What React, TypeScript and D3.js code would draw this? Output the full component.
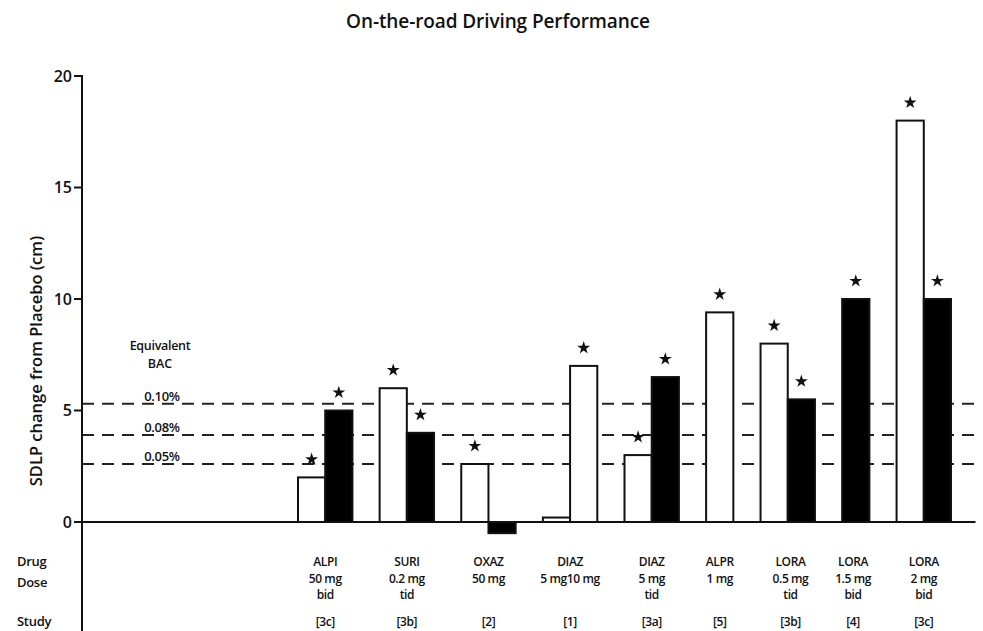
import React from "react";
import * as d3 from "d3";

const categories = ["ALPI", "SURI", "OXAZ", "DIAZ", "DIAZ", "ALPR", "LORA", "LORA", "LORA"];
const doseLine1 = ["50 mg", "0.2 mg", "50 mg", "5 mg10 mg", "5 mg", "1 mg", "0.5 mg", "1.5 mg", "2 mg"];
const doseLine2 = ["bid", "tid", "", "", "tid", "", "tid", "bid", "bid"];
const studies = ["[3c]", "[3b]", "[2]", "[1]", "[3a]", "[5]", "[3b]", "[4]", "[3c]"];
const labelSlots = [1, 4, 7, 10, 13, 15.5, 18.1, 20.4, 23];

const barSlots = [0, 1, 3, 4, 6, 7, 9, 10, 12, 13, 15, 17, 18, 20, 22, 23];
const barValues = [2.0, 5.0, 6.0, 4.0, 2.6, -0.5, 0.2, 7.0, 3.0, 6.5, 9.4, 8.0, 5.5, 10.0, 18.0, 10.0];
const barFilled = [false, true, false, true, false, true, false, false, false, true, false, false, true, true, false, true];
const barSignificant = [true, true, true, true, true, false, false, true, true, true, true, true, true, true, true, true];

const bacLabels = ["0.10%", "0.08%", "0.05%"];
const bacValues = [5.3, 3.9, 2.6];

const yTicks = [0, 5, 10, 15, 20];

const W = 983;
const H = 631;
const FONT = "'Open Sans', 'DejaVu Sans', sans-serif";

export default function App() {
  const y = d3.scaleLinear().domain([0, 20]).range([522, 76]);
  const x = d3.scaleLinear().domain([0, 24]).range([298, 951]);
  const axisX = 82;
  const rightEnd = x(24.9);
  const barW = x(1) - x(0);
  const star = d3.symbol().type(d3.symbolStar).size(52)();

  return (
    <svg
      width={W}
      height={H}
      style={{ position: "absolute", left: 0, top: 0, background: "#fff" }}
      fontFamily={FONT}
    >
      <rect x={0} y={0} width={W} height={H} fill="#fff" />
      {/* title */}
      <text x={498} y={28} textAnchor="middle" fontSize={19} fontWeight={600} fill="#111" letterSpacing={-0.1}>
        On-the-road Driving Performance
      </text>

      {/* y axis label */}
      <text
        transform={`translate(42,361) rotate(-90)`}
        textAnchor="middle"
        fontSize={16.5}
        fontWeight={600}
        fill="#111"
      >
        SDLP change from Placebo (cm)
      </text>

      {/* dashed BAC lines */}
      {bacValues.map((v, i) => (
        <g key={"bac" + i}>
          <line
            x1={axisX}
            x2={rightEnd}
            y1={y(v)}
            y2={y(v)}
            stroke="#222"
            strokeWidth={2}
            strokeDasharray="12 8"
          />
          <text x={162} y={y(v) - 3} textAnchor="middle" fontSize={13} fontWeight={600} fill="#111" letterSpacing={-0.3}>
            {bacLabels[i]}
          </text>
        </g>
      ))}
      <text x={160} y={350} textAnchor="middle" fontSize={12.5} fontWeight={600} fill="#111" letterSpacing={-0.3}>
        Equivalent
      </text>
      <text x={160} y={368} textAnchor="middle" fontSize={12.5} fontWeight={600} fill="#111">
        BAC
      </text>

      {/* bars */}
      {barValues.map((v, i) => {
        const x0 = x(barSlots[i]);
        const top = Math.min(y(v), y(0));
        const h = Math.abs(y(v) - y(0));
        return (
          <g key={"bar" + i}>
            <rect
              x={x0}
              y={top}
              width={barW}
              height={h}
              fill={barFilled[i] ? "#000" : "#fff"}
              stroke="#111"
              strokeWidth={2}
            />
            {barSignificant[i] && (
              <path d={star as string} transform={`translate(${x0 + barW / 2},${y(v) - 18})`} fill="#111" />
            )}
          </g>
        );
      })}

      {/* baseline and axis */}
      <line x1={axisX} x2={rightEnd} y1={y(0)} y2={y(0)} stroke="#111" strokeWidth={2} />
      <line x1={axisX} x2={axisX} y1={y(20) - 1} y2={H} stroke="#111" strokeWidth={2} />
      {yTicks.map((t) => (
        <g key={"t" + t}>
          <line x1={axisX - 8} x2={axisX} y1={y(t)} y2={y(t)} stroke="#111" strokeWidth={2} />
          <text x={axisX - 10} y={y(t) + 5.5} textAnchor="end" fontSize={16} fontWeight={600} fill="#111">
            {t}
          </text>
        </g>
      ))}

      {/* row titles */}
      <g fontSize={13} fill="#111" fontWeight={600} letterSpacing={-0.3}>
        <text x={17} y={566}>Drug</text>
        <text x={17} y={587}>Dose</text>
        <text x={17} y={626}>Study</text>
      </g>

      {/* category labels */}
      <g fontSize={12} fill="#111" textAnchor="middle" letterSpacing={-0.4} fontWeight={600}>
        {categories.map((c, i) => {
          const cx = x(labelSlots[i]);
          return (
            <g key={"lab" + i}>
              <text x={cx} y={566}>{c}</text>
              <text x={cx} y={583}>{doseLine1[i]}</text>
              {doseLine2[i] && <text x={cx} y={599}>{doseLine2[i]}</text>}
              <text x={cx} y={626}>{studies[i]}</text>
            </g>
          );
        })}
      </g>
    </svg>
  );
}
